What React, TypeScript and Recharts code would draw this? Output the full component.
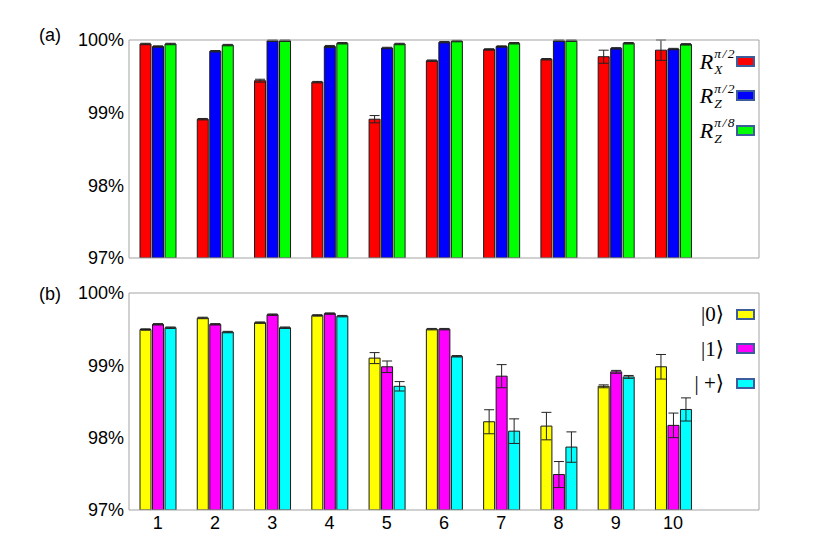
import React from "react";
import { Bar, BarChart, ErrorBar, Legend, XAxis, YAxis } from "recharts";

// categories (the 11th slot is empty in the figure)
const categories = ["1", "2", "3", "4", "5", "6", "7", "8", "9", "10", ""];

// panel (a): gate fidelities, %
const rxHalfPi = [99.945, 98.91, 99.44, 99.42, 98.91, 99.715, 99.87, 99.735, 99.77, 99.86];
const rxHalfPiErr = [0.01, 0.01, 0.02, 0.01, 0.05, 0.01, 0.01, 0.01, 0.09, 0.14];
const rzHalfPi = [99.91, 99.845, 99.99, 99.91, 99.89, 99.97, 99.91, 99.99, 99.885, 99.875];
const rzHalfPiErr = [0.01, 0.01, 0.01, 0.015, 0.01, 0.01, 0.01, 0.01, 0.01, 0.01];
const rzEighthPi = [99.945, 99.93, 99.99, 99.955, 99.945, 99.985, 99.955, 99.99, 99.955, 99.94];
const rzEighthPiErr = [0.01, 0.01, 0.01, 0.01, 0.01, 0.01, 0.01, 0.01, 0.01, 0.01];

// panel (b): state preparation fidelities, %
const state0 = [99.495, 99.655, 99.59, 99.69, 99.1, 99.5, 98.22, 98.16, 98.71, 98.98];
const state0Err = [0.01, 0.01, 0.01, 0.01, 0.076, 0.01, 0.166, 0.19, 0.02, 0.17];
const state1 = [99.567, 99.567, 99.7, 99.715, 98.98, 99.5, 98.85, 97.49, 98.91, 98.17];
const state1Err = [0.01, 0.01, 0.01, 0.01, 0.08, 0.01, 0.16, 0.18, 0.02, 0.17];
const statePlus = [99.52, 99.46, 99.52, 99.68, 98.71, 99.125, 98.09, 97.87, 98.84, 98.39];
const statePlusErr = [0.01, 0.01, 0.01, 0.01, 0.065, 0.01, 0.17, 0.21, 0.02, 0.16];

const majorTicks = [97, 98, 99, 100];
const minorTicks = [97, 97.5, 98, 98.5, 99, 99.5, 100];

const topData = categories.map((cat, i) => ({
  cat,
  rx: rxHalfPi[i],
  rxErr: rxHalfPiErr[i],
  rz2: rzHalfPi[i],
  rz2Err: rzHalfPiErr[i],
  rz8: rzEighthPi[i],
  rz8Err: rzEighthPiErr[i],
}));

const bottomData = categories.map((cat, i) => ({
  cat,
  s0: state0[i],
  s0Err: state0Err[i],
  s1: state1[i],
  s1Err: state1Err[i],
  sp: statePlus[i],
  spErr: statePlusErr[i],
}));

const AXIS = "#a3a3a3";
const SANS = '"Liberation Sans", Arial, sans-serif';
const SERIF = '"Liberation Serif", "DejaVu Serif", serif';
const tickFont = { fontSize: 18, fill: "#000", fontFamily: SANS };

function GateLabel({ sub, sup }: { sub: string; sup: string }) {
  return (
    <span style={{ display: "inline-flex", alignItems: "center", fontFamily: SERIF, fontStyle: "italic" }}>
      <span style={{ fontSize: 22, lineHeight: "22px" }}>R</span>
      <span
        style={{
          display: "inline-flex",
          flexDirection: "column",
          fontSize: 13.5,
          lineHeight: "15.5px",
          marginLeft: 1,
          letterSpacing: 1.5,
        }}
      >
        <span>{sup}</span>
        <span>{sub}</span>
      </span>
    </span>
  );
}

function KetLabel({ text }: { text: string }) {
  return <span style={{ fontFamily: SERIF, fontSize: 21 }}>{text}</span>;
}

function BoxLegend({ items, gap }: { items: { label: React.ReactNode; color: string }[]; gap: number }) {
  return (
    <div style={{ position: "relative", width: 64 }}>
      {items.map((it, i) => (
        <div key={i} style={{ position: "relative", height: 34.5 }}>
          <div
            style={{
              position: "absolute",
              right: 23 + gap,
              top: 17,
              transform: "translateY(-50%)",
              whiteSpace: "nowrap",
            }}
          >
            {it.label}
          </div>
          <div
            style={{
              position: "absolute",
              right: 4,
              top: 11.5,
              width: 15,
              height: 7,
              background: it.color,
              border: "2px solid #3d5c9c",
            }}
          />
        </div>
      ))}
    </div>
  );
}

const topLegend = [
  { label: <GateLabel sub="X" sup="π/2" />, color: "#ff0000" },
  { label: <GateLabel sub="Z" sup="π/2" />, color: "#0000ff" },
  { label: <GateLabel sub="Z" sup="π/8" />, color: "#00ff00" },
];

const bottomLegend = [
  { label: <KetLabel text="|0⟩" />, color: "#ffff00" },
  { label: <KetLabel text="|1⟩" />, color: "#ff00ff" },
  { label: <KetLabel text="| +⟩" />, color: "#00ffff" },
];

const pct = (v: number) => `${v}%`;

export default function App() {
  return (
    <div
      style={{
        position: "fixed",
        left: 0,
        top: 0,
        width: 817,
        height: 545,
        background: "#fff",
        fontFamily: SANS,
      }}
    >
      <div style={{ position: "absolute", left: 39, top: 25, fontSize: 18 }}>(a)</div>
      <div style={{ position: "absolute", left: 39, top: 284, fontSize: 18 }}>(b)</div>

      <div style={{ position: "absolute", left: 0, top: 0 }}>
        <BarChart
          width={817}
          height={270}
          data={topData}
          margin={{ top: 40, right: 58, bottom: 12, left: 59 }}
          barSize={11}
          barGap={1.5}
        >
          <XAxis dataKey="cat" mirror tick={false} tickSize={6} stroke={AXIS} />
          <XAxis xAxisId="top" dataKey="cat" orientation="top" mirror tick={false} tickSize={6} stroke={AXIS} />
          <YAxis
            domain={[97, 100]}
            allowDataOverflow
            ticks={majorTicks}
            tickFormatter={pct}
            width={70}
            tickLine={false}
            axisLine={false}
            tickSize={0}
            tickMargin={5}
            tick={tickFont}
          />
          <YAxis yAxisId="l" domain={[97, 100]} ticks={minorTicks} mirror tick={false} tickSize={6} stroke={AXIS} />
          <YAxis yAxisId="r" orientation="right" domain={[97, 100]} ticks={minorTicks} mirror tick={false} tickSize={6} stroke={AXIS} />
          <Legend
            layout="vertical"
            align="center"
            verticalAlign="middle"
            wrapperStyle={{ left: 695, top: 44, width: 64 }}
            content={() => <BoxLegend items={topLegend} gap={0} />}
          />
          <Bar dataKey="rx" fill="#ff0000" stroke="#1a1a1a" strokeWidth={1} isAnimationActive={false}>
            <ErrorBar dataKey="rxErr" width={5} stroke="#222" strokeWidth={1} isAnimationActive={false} />
          </Bar>
          <Bar dataKey="rz2" fill="#0000ff" stroke="#1a1a1a" strokeWidth={1} isAnimationActive={false}>
            <ErrorBar dataKey="rz2Err" width={5} stroke="#222" strokeWidth={1} isAnimationActive={false} />
          </Bar>
          <Bar dataKey="rz8" fill="#00ff00" stroke="#1a1a1a" strokeWidth={1} isAnimationActive={false}>
            <ErrorBar dataKey="rz8Err" width={5} stroke="#222" strokeWidth={1} isAnimationActive={false} />
          </Bar>
        </BarChart>
      </div>

      <div style={{ position: "absolute", left: 0, top: 252 }}>
        <BarChart
          width={817}
          height={293}
          data={bottomData}
          margin={{ top: 41, right: 58, bottom: 5, left: 59 }}
          barSize={11}
          barGap={1.5}
        >
          <XAxis
            dataKey="cat"
            height={30}
            tickLine={false}
            tickSize={0}
            tickMargin={6}
            stroke={AXIS}
            tick={tickFont}
            interval={0}
          />
          <XAxis xAxisId="bt" dataKey="cat" mirror tick={false} tickSize={6} axisLine={false} stroke={AXIS} />
          <XAxis xAxisId="top" dataKey="cat" orientation="top" mirror tick={false} tickSize={6} stroke={AXIS} />
          <YAxis
            domain={[97, 100]}
            allowDataOverflow
            ticks={majorTicks}
            tickFormatter={pct}
            width={70}
            tickLine={false}
            axisLine={false}
            tickSize={0}
            tickMargin={5}
            tick={tickFont}
          />
          <YAxis yAxisId="l" domain={[97, 100]} ticks={minorTicks} mirror tick={false} tickSize={6} stroke={AXIS} />
          <YAxis yAxisId="r" orientation="right" domain={[97, 100]} ticks={minorTicks} mirror tick={false} tickSize={6} stroke={AXIS} />
          <Legend
            layout="vertical"
            align="center"
            verticalAlign="middle"
            wrapperStyle={{ left: 695, top: 45, width: 64 }}
            content={() => <BoxLegend items={bottomLegend} gap={12} />}
          />
          <Bar dataKey="s0" fill="#ffff00" stroke="#1a1a1a" strokeWidth={1} isAnimationActive={false}>
            <ErrorBar dataKey="s0Err" width={5} stroke="#222" strokeWidth={1} isAnimationActive={false} />
          </Bar>
          <Bar dataKey="s1" fill="#ff00ff" stroke="#1a1a1a" strokeWidth={1} isAnimationActive={false}>
            <ErrorBar dataKey="s1Err" width={5} stroke="#222" strokeWidth={1} isAnimationActive={false} />
          </Bar>
          <Bar dataKey="sp" fill="#00ffff" stroke="#1a1a1a" strokeWidth={1} isAnimationActive={false}>
            <ErrorBar dataKey="spErr" width={5} stroke="#222" strokeWidth={1} isAnimationActive={false} />
          </Bar>
        </BarChart>
      </div>
    </div>
  );
}
